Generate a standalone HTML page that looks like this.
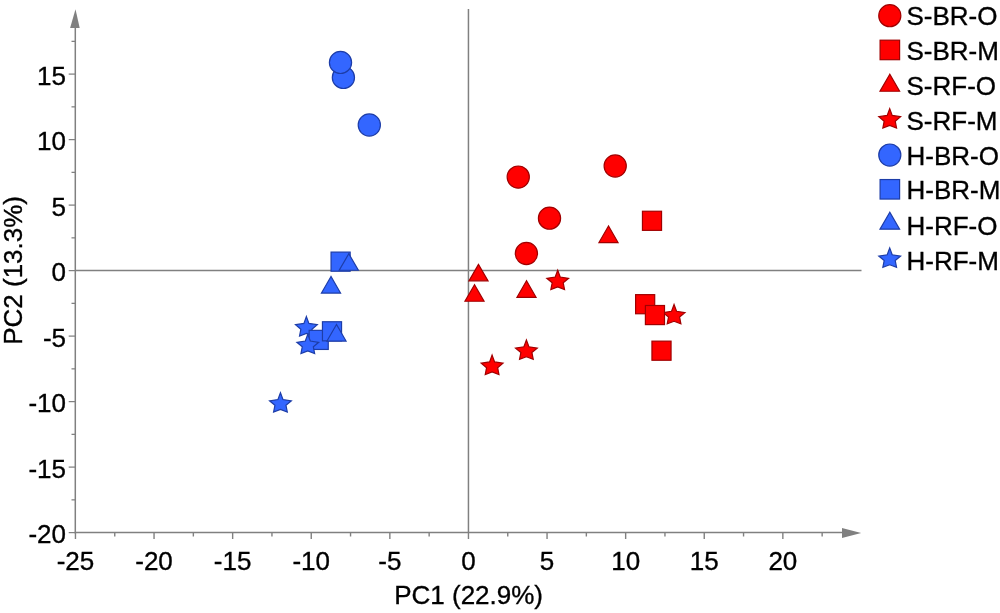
<!DOCTYPE html><html><head><meta charset="utf-8"><title>PCA</title>
<style>html,body{margin:0;padding:0;background:#fff}svg{display:block;will-change:transform}text{font-family:"Liberation Sans",Arial,sans-serif;fill:#000;stroke:#000;stroke-width:0.35px}</style></head><body>
<svg width="1000" height="613" viewBox="0 0 1000 613">
<rect width="1000" height="613" fill="#fff"/>
<g stroke="#808080" stroke-width="1.5" fill="none">
<line x1="468.45" y1="9" x2="468.45" y2="532.5"/>
<line x1="75.3" y1="270.6" x2="861.5" y2="270.6"/>
<line x1="75.3" y1="26" x2="75.3" y2="533.25"/>
<line x1="74.55" y1="532.5" x2="844" y2="532.5"/>
</g>
<polygon points="75.5,9.2 70.1,28 79.7,28" fill="#808080"/>
<polygon points="861.2,533.0 842,528.05 842,537.95" fill="#808080"/>
<g stroke="#808080" stroke-width="1.4">
<line x1="75.45" y1="532.5" x2="75.45" y2="539.0"/>
<line x1="114.75" y1="532.5" x2="114.75" y2="536.5"/>
<line x1="154.05" y1="532.5" x2="154.05" y2="539.0"/>
<line x1="193.35" y1="532.5" x2="193.35" y2="536.5"/>
<line x1="232.65" y1="532.5" x2="232.65" y2="539.0"/>
<line x1="271.95" y1="532.5" x2="271.95" y2="536.5"/>
<line x1="311.25" y1="532.5" x2="311.25" y2="539.0"/>
<line x1="350.55" y1="532.5" x2="350.55" y2="536.5"/>
<line x1="389.85" y1="532.5" x2="389.85" y2="539.0"/>
<line x1="429.15" y1="532.5" x2="429.15" y2="536.5"/>
<line x1="468.45" y1="532.5" x2="468.45" y2="539.0"/>
<line x1="507.75" y1="532.5" x2="507.75" y2="536.5"/>
<line x1="547.05" y1="532.5" x2="547.05" y2="539.0"/>
<line x1="586.35" y1="532.5" x2="586.35" y2="536.5"/>
<line x1="625.65" y1="532.5" x2="625.65" y2="539.0"/>
<line x1="664.95" y1="532.5" x2="664.95" y2="536.5"/>
<line x1="704.25" y1="532.5" x2="704.25" y2="539.0"/>
<line x1="743.55" y1="532.5" x2="743.55" y2="536.5"/>
<line x1="782.85" y1="532.5" x2="782.85" y2="539.0"/>
<line x1="822.15" y1="532.5" x2="822.15" y2="536.5"/>
</g>
<g stroke="#808080" stroke-width="1.25">
<line x1="68.7" y1="532.60" x2="75.3" y2="532.60"/>
<line x1="71.5" y1="499.85" x2="75.3" y2="499.85"/>
<line x1="68.7" y1="467.10" x2="75.3" y2="467.10"/>
<line x1="71.5" y1="434.35" x2="75.3" y2="434.35"/>
<line x1="68.7" y1="401.60" x2="75.3" y2="401.60"/>
<line x1="71.5" y1="368.85" x2="75.3" y2="368.85"/>
<line x1="68.7" y1="336.10" x2="75.3" y2="336.10"/>
<line x1="71.5" y1="303.35" x2="75.3" y2="303.35"/>
<line x1="68.7" y1="270.60" x2="75.3" y2="270.60"/>
<line x1="71.5" y1="237.85" x2="75.3" y2="237.85"/>
<line x1="68.7" y1="205.10" x2="75.3" y2="205.10"/>
<line x1="71.5" y1="172.35" x2="75.3" y2="172.35"/>
<line x1="68.7" y1="139.60" x2="75.3" y2="139.60"/>
<line x1="71.5" y1="106.85" x2="75.3" y2="106.85"/>
<line x1="68.7" y1="74.10" x2="75.3" y2="74.10"/>
<line x1="71.5" y1="41.35" x2="75.3" y2="41.35"/>
</g>
<g font-size="26">
<text x="75.45" y="569.5" text-anchor="middle">-25</text>
<text x="154.05" y="569.5" text-anchor="middle">-20</text>
<text x="232.65" y="569.5" text-anchor="middle">-15</text>
<text x="311.25" y="569.5" text-anchor="middle">-10</text>
<text x="389.85" y="569.5" text-anchor="middle">-5</text>
<text x="468.45" y="569.5" text-anchor="middle">0</text>
<text x="547.05" y="569.5" text-anchor="middle">5</text>
<text x="625.65" y="569.5" text-anchor="middle">10</text>
<text x="704.25" y="569.5" text-anchor="middle">15</text>
<text x="782.85" y="569.5" text-anchor="middle">20</text>
<text x="66" y="543.20" text-anchor="end">-20</text>
<text x="66" y="477.70" text-anchor="end">-15</text>
<text x="66" y="412.20" text-anchor="end">-10</text>
<text x="66" y="346.70" text-anchor="end">-5</text>
<text x="66" y="281.20" text-anchor="end">0</text>
<text x="66" y="215.70" text-anchor="end">5</text>
<text x="66" y="150.20" text-anchor="end">10</text>
<text x="66" y="84.70" text-anchor="end">15</text>
<text x="468.6" y="604" text-anchor="middle">PC1 (22.9%)</text>
<text transform="translate(22,270.4) rotate(-90)" text-anchor="middle">PC2 (13.3%)</text>
</g>
<circle cx="518.25" cy="177.1" r="11.1" fill="#ff0000" stroke="#a00000" stroke-width="1.2"/>
<circle cx="549.5" cy="218.15" r="11.1" fill="#ff0000" stroke="#a00000" stroke-width="1.2"/>
<circle cx="526.4" cy="253.5" r="11.1" fill="#ff0000" stroke="#a00000" stroke-width="1.2"/>
<circle cx="615.2" cy="166" r="11.1" fill="#ff0000" stroke="#a00000" stroke-width="1.2"/>
<rect x="642.45" y="211.25" width="19.1" height="19.1" fill="#ff0000" stroke="#a00000" stroke-width="1.2"/>
<rect x="635.60" y="294.65" width="19.1" height="19.1" fill="#ff0000" stroke="#a00000" stroke-width="1.2"/>
<polygon points="674.05,304.50 676.55,311.30 684.95,312.60 679.58,317.10 680.90,323.85 674.05,321.30 667.20,323.85 668.52,317.10 663.15,312.60 671.55,311.30" fill="#ff0000" stroke="#a00000" stroke-width="1.2" stroke-linejoin="miter"/>
<rect x="645.40" y="305.50" width="19.1" height="19.1" fill="#ff0000" stroke="#a00000" stroke-width="1.2"/>
<rect x="651.95" y="341.15" width="19.1" height="19.1" fill="#ff0000" stroke="#a00000" stroke-width="1.2"/>
<polygon points="478.50,264.35 468.95,280.85 488.05,280.85" fill="#ff0000" stroke="#a00000" stroke-width="1.2" stroke-linejoin="miter"/>
<polygon points="474.50,284.75 464.95,301.25 484.05,301.25" fill="#ff0000" stroke="#a00000" stroke-width="1.2" stroke-linejoin="miter"/>
<polygon points="526.50,280.80 516.95,297.30 536.05,297.30" fill="#ff0000" stroke="#a00000" stroke-width="1.2" stroke-linejoin="miter"/>
<polygon points="608.50,226.05 598.95,242.55 618.05,242.55" fill="#ff0000" stroke="#a00000" stroke-width="1.2" stroke-linejoin="miter"/>
<polygon points="557.70,270.20 560.20,277.00 568.60,278.30 563.23,282.80 564.55,289.55 557.70,287.00 550.85,289.55 552.17,282.80 546.80,278.30 555.20,277.00" fill="#ff0000" stroke="#a00000" stroke-width="1.2" stroke-linejoin="miter"/>
<polygon points="492.10,355.10 494.60,361.90 503.00,363.20 497.63,367.70 498.95,374.45 492.10,371.90 485.25,374.45 486.57,367.70 481.20,363.20 489.60,361.90" fill="#ff0000" stroke="#a00000" stroke-width="1.2" stroke-linejoin="miter"/>
<polygon points="526.40,340.00 528.90,346.80 537.30,348.10 531.93,352.60 533.25,359.35 526.40,356.80 519.55,359.35 520.87,352.60 515.50,348.10 523.90,346.80" fill="#ff0000" stroke="#a00000" stroke-width="1.2" stroke-linejoin="miter"/>
<circle cx="369.3" cy="125.0" r="11.1" fill="#3366ff" stroke="#1d3da8" stroke-width="1.2"/>
<circle cx="343.4" cy="77.4" r="11.1" fill="#3366ff" stroke="#1d3da8" stroke-width="1.2"/>
<circle cx="340.5" cy="62.4" r="11.1" fill="#3366ff" stroke="#1d3da8" stroke-width="1.2"/>
<polygon points="306.40,316.60 308.90,323.40 317.30,324.70 311.93,329.20 313.25,335.95 306.40,333.40 299.55,335.95 300.87,329.20 295.50,324.70 303.90,323.40" fill="#3366ff" stroke="#1d3da8" stroke-width="1.2" stroke-linejoin="miter"/>
<rect x="331.05" y="252.10" width="19.1" height="19.1" fill="#3366ff" stroke="#1d3da8" stroke-width="1.2"/>
<rect x="309.15" y="330.35" width="19.1" height="19.1" fill="#3366ff" stroke="#1d3da8" stroke-width="1.2"/>
<rect x="322.45" y="321.75" width="19.1" height="19.1" fill="#3366ff" stroke="#1d3da8" stroke-width="1.2"/>
<polygon points="348.80,253.75 339.25,270.25 358.35,270.25" fill="#3366ff" stroke="#1d3da8" stroke-width="1.2" stroke-linejoin="miter"/>
<polygon points="331.00,276.55 321.45,293.05 340.55,293.05" fill="#3366ff" stroke="#1d3da8" stroke-width="1.2" stroke-linejoin="miter"/>
<polygon points="336.50,324.55 326.95,341.05 346.05,341.05" fill="#3366ff" stroke="#1d3da8" stroke-width="1.2" stroke-linejoin="miter"/>
<polygon points="307.80,334.20 310.30,341.00 318.70,342.30 313.33,346.80 314.65,353.55 307.80,351.00 300.95,353.55 302.27,346.80 296.90,342.30 305.30,341.00" fill="#3366ff" stroke="#1d3da8" stroke-width="1.2" stroke-linejoin="miter"/>
<polygon points="280.45,392.70 282.95,399.50 291.35,400.80 285.98,405.30 287.30,412.05 280.45,409.50 273.60,412.05 274.92,405.30 269.55,400.80 277.95,399.50" fill="#3366ff" stroke="#1d3da8" stroke-width="1.2" stroke-linejoin="miter"/>
<circle cx="889.8" cy="15.7" r="11.05" fill="#ff0000" stroke="#a00000" stroke-width="1.2"/>
<text x="906.5" y="25.10" font-size="26">S-BR-O</text>
<rect x="880.10" y="40.19" width="19.5" height="19.5" fill="#ff0000" stroke="#a00000" stroke-width="1.2"/>
<text x="906.5" y="59.90" font-size="26">S-BR-M</text>
<polygon points="889.80,74.23 880.00,91.23 899.60,91.23" fill="#ff0000" stroke="#a00000" stroke-width="1.2" stroke-linejoin="miter"/>
<text x="906.5" y="95.20" font-size="26">S-RF-O</text>
<polygon points="889.70,108.62 892.20,115.42 900.60,116.72 895.23,121.22 896.55,127.97 889.70,125.42 882.85,127.97 884.17,121.22 878.80,116.72 887.20,115.42" fill="#ff0000" stroke="#a00000" stroke-width="1.2" stroke-linejoin="miter"/>
<text x="906.5" y="130.00" font-size="26">S-RF-M</text>
<circle cx="889.8" cy="155.06" r="11.05" fill="#3366ff" stroke="#1d3da8" stroke-width="1.2"/>
<text x="906.5" y="164.50" font-size="26">H-BR-O</text>
<rect x="880.10" y="179.55" width="19.5" height="19.5" fill="#3366ff" stroke="#1d3da8" stroke-width="1.2"/>
<text x="906.5" y="199.30" font-size="26">H-BR-M</text>
<polygon points="889.80,212.19 880.00,229.19 899.60,229.19" fill="#3366ff" stroke="#1d3da8" stroke-width="1.2" stroke-linejoin="miter"/>
<text x="906.5" y="234.70" font-size="26">H-RF-O</text>
<polygon points="889.70,247.98 892.20,254.78 900.60,256.08 895.23,260.58 896.55,267.33 889.70,264.78 882.85,267.33 884.17,260.58 878.80,256.08 887.20,254.78" fill="#3366ff" stroke="#1d3da8" stroke-width="1.2" stroke-linejoin="miter"/>
<text x="906.5" y="269.60" font-size="26">H-RF-M</text>
</svg></body></html>
